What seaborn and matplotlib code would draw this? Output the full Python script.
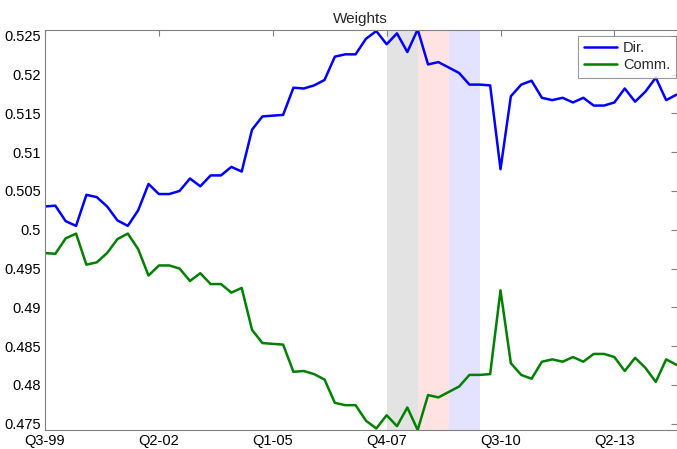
import matplotlib
matplotlib.use('Agg')
import matplotlib.pyplot as plt
import pandas as pd
import seaborn as sns

# quarterly weights, Q3-99 onwards
dir_w = [0.5030, 0.5031, 0.5011, 0.5005, 0.5045, 0.5042, 0.5030, 0.5012, 0.5005, 0.5025,
         0.5059, 0.5046, 0.5046, 0.5050, 0.5066, 0.5056, 0.5070, 0.5070, 0.5081, 0.5075,
         0.5129, 0.5146, 0.5147, 0.5148, 0.5183, 0.5182, 0.5186, 0.5193, 0.5223, 0.5226,
         0.5226, 0.5246, 0.5256, 0.5239, 0.5253, 0.5229, 0.5258, 0.5213, 0.5216, 0.5209,
         0.5202, 0.5187, 0.5187, 0.5186, 0.5078, 0.5172, 0.5187, 0.5192, 0.5170, 0.5167,
         0.5170, 0.5164, 0.5170, 0.5160, 0.5160, 0.5164, 0.5182, 0.5165, 0.5178, 0.5196,
         0.5167, 0.5174]
comm_w = [0.4970, 0.4969, 0.4989, 0.4995, 0.4955, 0.4958, 0.4970, 0.4988, 0.4995, 0.4975,
          0.4941, 0.4954, 0.4954, 0.4950, 0.4934, 0.4944, 0.4930, 0.4930, 0.4919, 0.4925,
          0.4871, 0.4854, 0.4853, 0.4852, 0.4817, 0.4818, 0.4814, 0.4807, 0.4777, 0.4774,
          0.4774, 0.4754, 0.4744, 0.4761, 0.4747, 0.4771, 0.4742, 0.4787, 0.4784, 0.4791,
          0.4798, 0.4813, 0.4813, 0.4814, 0.4922, 0.4828, 0.4813, 0.4808, 0.4830, 0.4833,
          0.4830, 0.4836, 0.4830, 0.4840, 0.4840, 0.4836, 0.4818, 0.4835, 0.4822, 0.4804,
          0.4833, 0.4826]
quarter = list(range(len(dir_w)))

tick_pos = [0, 11, 22, 33, 44, 55]
tick_labels = ['Q3-99', 'Q2-02', 'Q1-05', 'Q4-07', 'Q3-10', 'Q2-13']
ytick_pos = [0.475, 0.48, 0.485, 0.49, 0.495, 0.5, 0.505, 0.51, 0.515, 0.52, 0.525]
ytick_labels = ['0.475', '0.48', '0.485', '0.49', '0.495', '0.5', '0.505', '0.51', '0.515', '0.52', '0.525']

# shaded periods (quarter index start, end, colour)
bands = [(33, 36, '#e3e3e3'), (36, 39, '#ffe3e3'), (39, 42, '#e3e3ff')]

df = pd.DataFrame({'quarter': quarter, 'Dir.': dir_w, 'Comm.': comm_w})

sns.set_style('white')
plt.rcParams['font.family'] = ['Liberation Sans', 'DejaVu Sans']

fig = plt.figure(figsize=(6.77, 4.49), dpi=100)
ax = fig.add_axes([45 / 677, 19 / 449, 631.5 / 677, 400.5 / 449])

for b0, b1, col in bands:
    ax.axvspan(b0, b1, color=col, lw=0, zorder=0)

sns.lineplot(data=df, x='quarter', y='Dir.', color='#0000ff', lw=1.8, label='Dir.', ax=ax)
sns.lineplot(data=df, x='quarter', y='Comm.', color='#008000', lw=1.8, label='Comm.', ax=ax)

ax.set_xlim(0, len(dir_w) - 1)
ax.set_ylim(min(comm_w), max(dir_w))
ax.set_xticks(tick_pos)
ax.set_xticklabels(tick_labels)
ax.set_yticks(ytick_pos)
ax.set_yticklabels(ytick_labels)
ax.set_xlabel('')
ax.set_ylabel('')
ax.set_title('Weights', fontsize=11, pad=5)

for s in ax.spines.values():
    s.set_visible(True)
    s.set_color('#808080')
    s.set_linewidth(0.8)
ax.tick_params(direction='in', length=4, width=0.8, color='#808080',
               top=True, right=True, labelsize=10.5, labelcolor='black', pad=3)

leg = ax.legend(loc='upper right', bbox_to_anchor=(631 / 631.5, 1 - 6 / 400.5),
                frameon=True, fancybox=False, fontsize=10.5, borderaxespad=0,
                handlelength=2.3, handletextpad=0.4, borderpad=0.4, labelspacing=0.2)
leg.get_frame().set_edgecolor('#808080')
leg.get_frame().set_linewidth(0.8)

fig.savefig('out.png', dpi=100)
